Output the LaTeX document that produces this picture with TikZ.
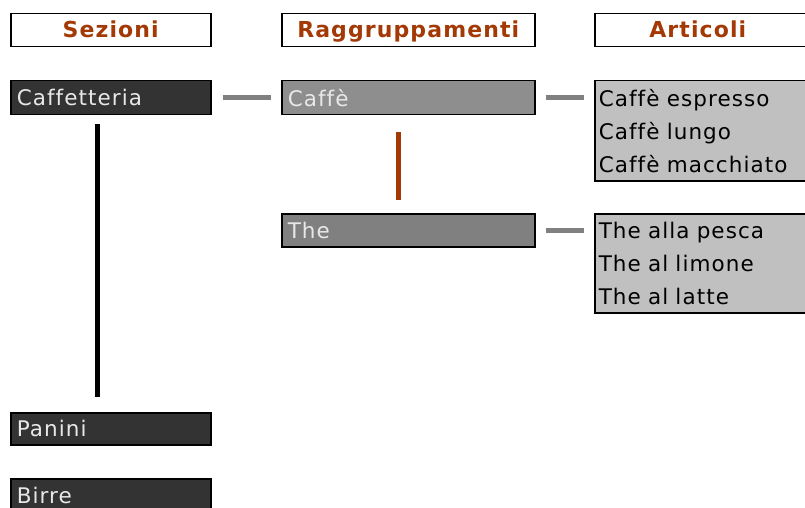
\documentclass[tikz,border=0pt]{standalone}
\usepackage{fontspec}
\setmainfont{DejaVu Sans}[LetterSpace=5,Ligatures={NoCommon}]
\definecolor{brn}{HTML}{A33A05}
\definecolor{darkbox}{HTML}{333333}
\definecolor{midbox}{HTML}{8E8E8E}
\definecolor{midbox2}{HTML}{808080}
\definecolor{lightbox}{HTML}{C0C0C0}
\definecolor{lighttext}{HTML}{E8E8E8}
\definecolor{conn}{HTML}{808080}
\tikzset{
  base/.style={anchor=north west, draw=black, line width=1.5pt, inner xsep=6pt, inner ysep=0pt, align=left, font=\fontsize{21.5}{33}\selectfont},
  header/.style={anchor=north west, draw=black, line width=1.5pt, fill=white, minimum height=33pt, inner ysep=0pt, text height=17pt, text depth=3pt, text=brn, font=\fontsize{22}{25}\selectfont\bfseries},
  sezbox/.style={base, fill=darkbox, text=lighttext, minimum height=34pt, text width=188pt},
  grpbox/.style={base, fill=midbox, text=lighttext, minimum height=34pt, text width=241pt},
  artbox/.style={base, fill=lightbox, text=black, minimum height=100pt, text width=210pt, inner xsep=4pt},
  grayconn/.style={conn, line width=5pt},
  blackconn/.style={black, line width=5pt},
  brownconn/.style={brn, line width=5pt},
}
\begin{document}
\begin{tikzpicture}[x=1pt,y=-1pt]
\useasboundingbox (0,0) rectangle (805,508);
\clip (0,0) rectangle (805,508);
\fill[white] (0,0) rectangle (805,508);
% headers
\node[header, minimum width=200pt] (hsez) at (10,13) {Sezioni};
\node[header, minimum width=253pt] (hgrp) at (281,13) {Raggruppamenti};
\node[header, minimum width=216pt, text width=204pt, align=center] (hart) at (594,13) {\hspace*{-10pt}Articoli};
% sezioni
\node[sezbox] (caffetteria) at (10,80) {Caffetteria};
\node[sezbox, minimum height=32pt] (panini) at (10,412) {Panini};
\node[sezbox] (birre) at (10,478) {Birre};
% raggruppamenti
\node[grpbox] (caffe) at (281,80) {Caffè};
\node[grpbox, fill=midbox2, minimum height=33pt] (the) at (281,213) {The};
% articoli
\node[artbox] (artcaffe) at (594,80) {Caffè espresso\\Caffè lungo\\Caffè macchiato};
\node[artbox, minimum height=99pt] (artthe) at (594,213) {The alla pesca\\The al limone\\The al latte};
% connectors
\draw[grayconn, shorten <=11pt, shorten >=10pt] (caffetteria.east) -- (caffe.west);
\draw[grayconn, shorten <=10pt, shorten >=10pt] (caffe.east) -- (artcaffe.west |- caffe.east);
\draw[grayconn, shorten <=10pt, shorten >=10pt] (the.east) -- (artthe.west |- the.east);
\draw[blackconn, shorten <=9pt, shorten >=15pt] ([xshift=87pt]caffetteria.south west) -- ([xshift=87pt]panini.north west);
\draw[brownconn, shorten <=16pt, shorten >=13pt] ([xshift=117pt]caffe.south west) -- ([xshift=117pt]the.north west);
\end{tikzpicture}
\end{document}
